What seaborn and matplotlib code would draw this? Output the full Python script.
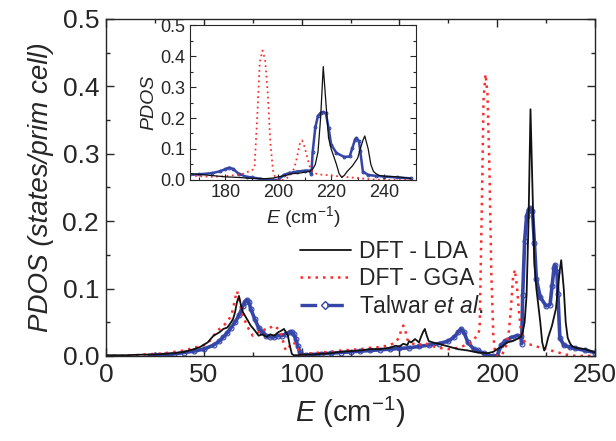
import numpy as np
import pandas as pd
import matplotlib
matplotlib.use("Agg")
import matplotlib.pyplot as plt
from matplotlib.lines import Line2D
from matplotlib.ticker import MultipleLocator
import seaborn as sns

sns.set_style("ticks")
plt.rcParams['font.family'] = ['Liberation Sans', 'DejaVu Sans']
plt.rcParams['mathtext.fontset'] = 'custom'
plt.rcParams['mathtext.rm'] = 'Liberation Sans'
plt.rcParams['mathtext.it'] = 'Liberation Sans:italic'

# DFT - LDA
lda_e = [0, 10, 20, 25, 30, 35, 40, 45, 48, 52, 55, 58, 60, 62, 64, 65, 66, 67, 68, 69,
         70, 72, 74, 76, 78, 80, 82, 84, 86, 88, 90, 91, 92, 93, 94, 95, 96, 98, 100, 105,
         110, 115, 120, 125, 130, 135, 140, 145, 148, 150, 152, 154, 155, 156, 158, 160, 161,
         162, 163, 164, 165, 167, 170, 175, 180, 185, 190, 195, 198, 200, 203, 205, 208, 210,
         212, 213, 214, 215, 216, 217, 218, 219, 220, 221, 222, 223, 224, 225, 226, 228, 230,
         231, 232, 232.7, 234, 235, 236, 237, 238, 240, 245, 250]
lda_p = [0.001, 0.001, 0.002, 0.002, 0.003, 0.004, 0.006, 0.010, 0.013, 0.020, 0.030, 0.035,
         0.040, 0.042, 0.050, 0.055, 0.065, 0.080, 0.089, 0.075, 0.065, 0.055, 0.045, 0.038,
         0.030, 0.032, 0.028, 0.032, 0.030, 0.035, 0.038, 0.040, 0.035, 0.030, 0.015, 0.003,
         0.001, 0.001, 0.002, 0.002, 0.003, 0.004, 0.006, 0.007, 0.008, 0.010, 0.010, 0.012,
         0.015, 0.014, 0.018, 0.016, 0.022, 0.020, 0.025, 0.020, 0.028, 0.035, 0.040, 0.030,
         0.022, 0.020, 0.018, 0.014, 0.010, 0.008, 0.005, 0.004, 0.006, 0.010, 0.015, 0.020,
         0.022, 0.025, 0.028, 0.035, 0.050, 0.090, 0.200, 0.366, 0.250, 0.136, 0.100, 0.075,
         0.050, 0.020, 0.008, 0.015, 0.027, 0.045, 0.070, 0.100, 0.128, 0.142, 0.100, 0.050,
         0.027, 0.020, 0.015, 0.012, 0.010, 0.005]

# DFT - GGA
gga_e = [0, 10, 15, 20, 25, 30, 35, 40, 45, 50, 53, 55, 58, 60, 62, 64, 65, 66, 67, 68, 69,
         70, 72, 74, 75, 78, 80, 82, 84, 86, 88, 90, 91, 92, 93, 95, 97, 99, 100, 105, 110,
         115, 120, 125, 130, 135, 140, 145, 148, 150, 151, 152, 153, 154, 155, 157, 160, 163,
         165, 170, 175, 180, 183, 186, 188, 190, 191, 192, 193, 194, 195, 196, 197, 198, 199,
         200, 202, 204, 205, 206, 207, 208, 209, 210, 211, 212, 213, 215, 218, 220, 225, 230,
         235, 240, 245, 250]
gga_p = [0.000, 0.000, 0.001, 0.002, 0.003, 0.004, 0.006, 0.008, 0.012, 0.016, 0.022, 0.030,
         0.040, 0.045, 0.050, 0.060, 0.070, 0.085, 0.096, 0.085, 0.070, 0.060, 0.045, 0.035,
         0.030, 0.035, 0.040, 0.038, 0.042, 0.045, 0.040, 0.030, 0.015, 0.008, 0.010, 0.020,
         0.018, 0.005, 0.002, 0.004, 0.005, 0.006, 0.008, 0.009, 0.010, 0.012, 0.013, 0.016,
         0.020, 0.028, 0.040, 0.045, 0.038, 0.025, 0.020, 0.018, 0.016, 0.020, 0.016, 0.012,
         0.010, 0.012, 0.015, 0.018, 0.025, 0.030, 0.040, 0.200, 0.380, 0.418, 0.390, 0.280,
         0.120, 0.030, 0.003, 0.000, 0.000, 0.010, 0.020, 0.038, 0.070, 0.114, 0.128, 0.105,
         0.070, 0.040, 0.025, 0.018, 0.016, 0.014, 0.010, 0.006, 0.002, 0.000, 0.000, 0.000]

# Talwar et al.
tal_e = [22, 25, 30, 35, 40, 45, 50, 55, 58, 60, 62, 64, 66, 68, 70, 71, 72, 73, 74, 76, 78,
         80, 82, 84, 86, 88, 90, 92, 94, 95, 96, 97, 98, 99, 100, 102, 105, 110, 115, 120, 125,
         130, 135, 140, 145, 150, 155, 160, 165, 170, 175, 178, 180, 181.5, 183, 185, 188, 190,
         193, 195, 198, 200, 202, 204, 207, 210, 212, 212.5, 213, 214, 215, 216, 217, 218, 219,
         220, 222, 225, 227, 228, 229, 229.5, 230.5, 231, 232, 234, 237, 240, 245, 250]
tal_p = [0.000, 0.001, 0.002, 0.003, 0.005, 0.007, 0.010, 0.016, 0.022, 0.028, 0.034, 0.042,
         0.050, 0.060, 0.074, 0.080, 0.083, 0.080, 0.070, 0.055, 0.042, 0.035, 0.030, 0.028,
         0.028, 0.030, 0.030, 0.033, 0.035, 0.035, 0.032, 0.025, 0.015, 0.006, 0.002, 0.001,
         0.002, 0.003, 0.004, 0.005, 0.006, 0.007, 0.008, 0.009, 0.010, 0.011, 0.012, 0.014,
         0.016, 0.018, 0.022, 0.028, 0.035, 0.040, 0.035, 0.020, 0.010, 0.008, 0.004, 0.001,
         0.000, 0.000, 0.016, 0.022, 0.027, 0.030, 0.030, 0.018, 0.090, 0.170, 0.207, 0.217,
         0.219, 0.215, 0.168, 0.114, 0.087, 0.074, 0.076, 0.103, 0.130, 0.135, 0.125, 0.092,
         0.027, 0.016, 0.013, 0.011, 0.008, 0.005]

lda_df = pd.DataFrame({"E": lda_e, "PDOS": lda_p})
gga_df = pd.DataFrame({"E": gga_e, "PDOS": gga_p})
tal_df = pd.DataFrame({"E": tal_e, "PDOS": tal_p})

black = "#111111"
red = "#ff2a2a"
blue = "#3546a8"


def draw_curves(ax, lw_scale=1.0, ms=3.5):
    sns.lineplot(data=tal_df, x="E", y="PDOS", ax=ax, color=blue, lw=2.6 * lw_scale,
                 marker="o", markersize=ms, markerfacecolor="none", markeredgecolor=blue,
                 markeredgewidth=0.8, sort=False, estimator=None)
    sns.lineplot(data=gga_df, x="E", y="PDOS", ax=ax, color=red, lw=1.8 * lw_scale,
                 linestyle=(0, (1, 2)), sort=False, estimator=None)
    sns.lineplot(data=lda_df, x="E", y="PDOS", ax=ax, color=black, lw=1.3 * lw_scale,
                 sort=False, estimator=None)


fig = plt.figure(figsize=(6.16, 4.41), dpi=100)
ax = fig.add_axes([0.172, 0.193, 0.794, 0.764])
draw_curves(ax)
ax.set_xlim(0, 250)
ax.set_ylim(0, 0.5)
ax.xaxis.set_major_locator(MultipleLocator(50))
ax.xaxis.set_minor_locator(MultipleLocator(25))
ax.yaxis.set_major_locator(MultipleLocator(0.1))
ax.yaxis.set_minor_locator(MultipleLocator(0.05))
ax.yaxis.set_major_formatter(matplotlib.ticker.FormatStrFormatter("%.1f"))
ax.tick_params(which="both", direction="in", top=True, right=True, width=1.0)
ax.tick_params(which="major", length=6, labelsize=19, pad=5)
ax.tick_params(which="minor", length=3)
for s in ax.spines.values():
    s.set_linewidth(1.0)
ax.set_xlabel(r"$E$ (cm$^{-1}$)", fontsize=21, labelpad=6)
ax.set_ylabel("PDOS (states/prim cell)", fontsize=20, style="italic", labelpad=6)

handles = [
    Line2D([], [], color=black, lw=1.3),
    Line2D([], [], color=red, lw=1.8, linestyle=(0, (1, 2))),
    Line2D([], [], color=blue, lw=2.4, linestyle=(0, (5, 3)), marker="D", markersize=4,
           markerfacecolor="none", markevery=[1]),
]
labels = ["DFT - LDA", "DFT - GGA", r"Talwar $et\ al.$"]
ax.legend(handles, labels, loc="upper left", bbox_to_anchor=(0.397, 0.345), frameon=False,
          fontsize=16.5, handlelength=2.2, handletextpad=0.35, labelspacing=0.2,
          borderaxespad=0, borderpad=0)

ins = fig.add_axes([0.308, 0.592, 0.367, 0.351])
draw_curves(ins, lw_scale=0.7, ms=2.0)
ins.set_xlim(166.5, 252)
ins.set_ylim(0, 0.5)
ins.xaxis.set_major_locator(MultipleLocator(20))
ins.xaxis.set_minor_locator(MultipleLocator(10))
ins.yaxis.set_major_locator(MultipleLocator(0.1))
ins.yaxis.set_minor_locator(MultipleLocator(0.05))
ins.yaxis.set_major_formatter(matplotlib.ticker.FormatStrFormatter("%.1f"))
ins.tick_params(which="both", direction="in", top=False, right=True, width=0.8)
ins.tick_params(which="major", length=4, labelsize=13, pad=3)
ins.tick_params(which="minor", length=2)
for s in ins.spines.values():
    s.set_linewidth(0.8)
ins.set_xlabel(r"$E$ (cm$^{-1}$)", fontsize=14, labelpad=2)
ins.set_ylabel("PDOS", fontsize=14, style="italic", labelpad=2)

fig.savefig("out.png", dpi=100)
